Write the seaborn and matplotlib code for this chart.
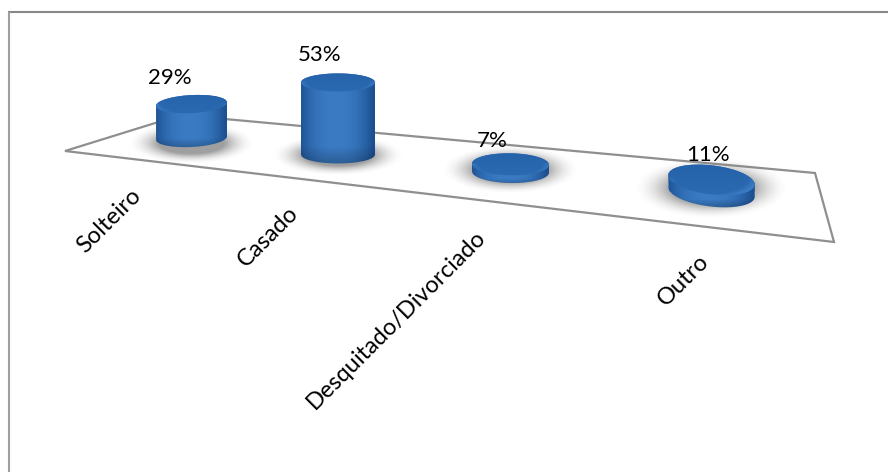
import numpy as np
import pandas as pd
import matplotlib
matplotlib.use("Agg")
import matplotlib.pyplot as plt
from matplotlib.patches import Ellipse, Polygon, PathPatch
from matplotlib.path import Path
import seaborn as sns

# Survey answers: marital status shares
categories = ["Solteiro", "Casado", "Desquitado/Divorciado", "Outro"]
percentages = [29, 53, 7, 11]

# Perspective layout of the columns, in figure pixels (y measured from the top)
W, H = 888, 472
centers = [191.5, 338, 510.5, 711.5]
base_y = [138, 154.5, 172, 192]
radius_x = [35.5, 37, 38.5, 43.5]
radius_y = [9, 9, 11, 14.5]
tilts = [-3, 0, 1, 7]
px_per_percent = [1.17, 1.36, 1.1, 1.1]
shadow_y = [143, 155, 170, 188]
value_xy = [(170, 78), (320, 55), (492, 141), (708, 155)]
label_ends = [(130, 185), (288, 202), (475, 226), (698, 251)]
floor_px = [(65, 151), (181, 115), (815, 173), (834, 242)]

DARK = np.array([0x1c, 0x4f, 0x8f]) / 255
LIGHT = np.array([0x3a, 0x7b, 0xc4]) / 255
LID = np.array([0x22, 0x5f, 0xa6]) / 255

sns.set_theme(style="white")
plt.rcParams["font.family"] = ["Lato", "DejaVu Sans"]

fig = plt.figure(figsize=(W / 100, H / 100), dpi=100, facecolor="white")
ax = fig.add_axes([0, 0, 1, 1])
ax.set_axis_off()


def flip(y):
    return H - y


# Only the top and left borders of the chart area are drawn
ax.plot([8, W], [flip(12), flip(12)], color="#888888", linewidth=1.5, zorder=1,
        solid_capstyle="butt")
ax.plot([8.5, 8.5], [flip(11.5), 0], color="#a0a0a0", linewidth=1.5, zorder=1,
        solid_capstyle="butt")
ax.add_patch(Polygon([(x, flip(y)) for x, y in floor_px], closed=True, fill=False,
                     edgecolor="#8f8f8f", linewidth=1.6, zorder=2))


def ellipse_arc(cx, cy, rx, ry, tilt, start, stop, n=60):
    t = np.radians(np.linspace(start, stop, n))
    a = np.radians(tilt)
    x, y = rx * np.cos(t), ry * np.sin(t)
    return np.column_stack([cx + x * np.cos(a) + y * np.sin(a),
                            cy - x * np.sin(a) + y * np.cos(a)])


def draw_cylinder(cx, value, scale, rx, ry, tilt, base, sh_y):
    height = value * scale
    bottom = flip(base)

    # soft shadow lying on the floor
    sx, sy = rx * 1.42, ry * 1.5 + 3
    gx, gy = np.meshgrid(np.linspace(-1.25, 1.25, 160), np.linspace(-1.25, 1.25, 80))
    falloff = np.clip(1.25 - np.hypot(gx, gy), 0, 1) / 0.6
    rgba = np.zeros(gx.shape + (4,))
    rgba[..., :3] = 0.5
    rgba[..., 3] = np.clip(falloff, 0, 1) ** 1.8 * 0.75
    ax.imshow(rgba, extent=[cx - sx * 1.25, cx + sx * 1.25,
                            flip(sh_y) - sy * 1.25, flip(sh_y) + sy * 1.25],
              aspect="auto", zorder=3, interpolation="bilinear")

    # column body from the bar, with a rounded lower edge and metal shading
    sns.barplot(x=[cx], y=[height], native_scale=True, width=2 * rx, bottom=bottom,
                color="#2e6db4", saturation=1, ax=ax, zorder=4)
    bar = ax.patches[-1]
    x0, w = bar.get_x(), bar.get_width()
    top = bottom + height
    outline = np.vstack([
        ellipse_arc(cx, bottom, rx, ry, tilt, 180, 360),
        ellipse_arc(cx, top, rx, ry, tilt, 0, 180),
    ])
    clip = PathPatch(Path(np.vstack([outline, outline[:1]]), closed=True),
                     transform=ax.transData, facecolor="none", edgecolor="none")
    ax.add_patch(clip)
    bar.set_clip_path(clip)

    uu, vv = np.meshgrid(np.linspace(-1, 1, 120), np.linspace(0, 1, 80))
    shade = np.clip(1 - np.abs(uu + 0.05) ** 2.4, 0, 1)[..., None]
    body = DARK * (1 - shade) + LIGHT * shade
    # the foot of the column falls into shade
    foot = np.clip((vv - 0.8) / 0.2, 0, 1)[..., None]
    body = body * (1 - 0.25 * foot)
    lower = bottom - ry - 2
    im = ax.imshow(body, extent=[x0, x0 + w, lower, top + ry], aspect="auto",
                   zorder=4.5, interpolation="bilinear")
    im.set_clip_path(clip)

    # top face with a lighter rim on the near side
    lid = Ellipse((cx, top), 2 * rx, 2 * ry, angle=-tilt, transform=ax.transData,
                  facecolor="none", edgecolor="none")
    ax.add_patch(lid)
    gx, gy = np.meshgrid(np.linspace(-1, 1, 120), np.linspace(1, -1, 80))
    rim = np.clip(np.hypot(gx, gy) - 0.78, 0, 1) / 0.22 * (gy < 0.05)
    shade = np.clip(0.15 * (-gy) + 0.25 + 0.75 * rim, 0, 1)[..., None]
    face = LID * (1 - shade) + LIGHT * shade
    im2 = ax.imshow(face, extent=[cx - rx - 2, cx + rx + 2, top - ry - 4, top + ry + 4],
                    aspect="auto", zorder=5, interpolation="bilinear")
    im2.set_clip_path(lid)


for i in range(len(categories)):
    draw_cylinder(centers[i], percentages[i], px_per_percent[i], radius_x[i], radius_y[i],
                  tilts[i], base_y[i], shadow_y[i])

for pct, (x, y) in zip(percentages, value_xy):
    ax.text(x, flip(y), f"{pct}%", ha="center", va="center", fontsize=16,
            color="black", zorder=7)

for name, (x, y) in zip(categories, label_ends):
    ax.text(x, flip(y), name, ha="right", va="top", rotation=45, rotation_mode="anchor",
            fontsize=17, color="black", zorder=7)

ax.set_xlim(0, W)
ax.set_ylim(0, H)
ax.set_xlabel("")
ax.set_ylabel("")
ax.set_axis_off()
fig.savefig("out.png", dpi=100, facecolor="white")
